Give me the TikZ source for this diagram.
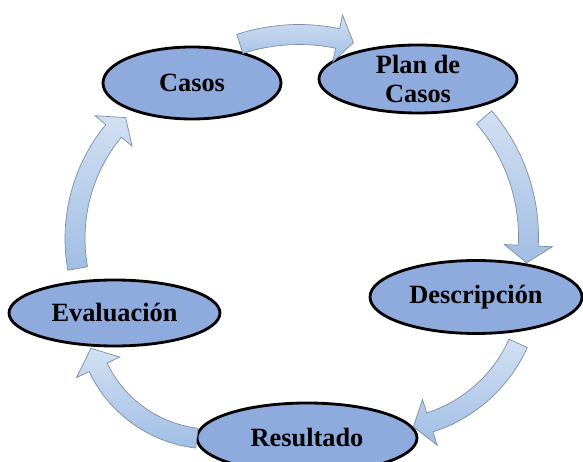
\documentclass[tikz,border=0pt]{standalone}
\usepackage{fontspec}
\setmainfont{Liberation Serif}
\usepackage{tikz}
\usetikzlibrary{shapes.geometric}
\usetikzlibrary{calc}

\definecolor{ellblau}{RGB}{143,170,220}
\definecolor{pfeilhell}{RGB}{210,224,242}
\definecolor{pfeildunkel}{RGB}{160,190,228}
\definecolor{pfeilrand}{RGB}{125,140,165}

% Bogenpfeil: Mitte, Radius, Startwinkel, Ansatz der Spitze, Spitze
\newcommand{\bogenpfeil}[5]{%
  \pgfmathsetmacro{\rAussen}{#2+0.2}\pgfmathsetmacro{\rInnen}{#2-0.2}%
  \pgfmathsetmacro{\rKopfA}{#2+0.48}\pgfmathsetmacro{\rKopfI}{#2-0.48}%
  \begin{scope}[shift={(#1)}]
    \draw[pfeil] (#3:\rAussen) arc[start angle=#3, end angle=#4, radius=\rAussen]
      -- (#4:\rKopfA) -- (#5:#2) -- (#4:\rKopfI) -- (#4:\rInnen)
      arc[start angle=#4, end angle=#3, radius=\rInnen] -- cycle;
  \end{scope}}

\begin{document}
\begin{tikzpicture}[
	schritt/.style={ellipse, draw=black, line width=1.6pt, fill=ellblau, inner sep=0pt, align=center, font=\fontsize{15}{16}\selectfont\bfseries},
	pfeil/.style={draw=pfeilrand, line width=0.4pt, top color=pfeilhell, bottom color=pfeildunkel}]
		\useasboundingbox (0,0) rectangle (11.66,9.24);
		\node[schritt, minimum width=3.56cm, minimum height=1.44cm] (casos) at (3.84,7.58) {Casos};
		\node[schritt, minimum width=3.96cm, minimum height=1.36cm] (plan) at (8.36,7.66) {Plan de\\Casos};
		\node[schritt, minimum width=4.24cm, minimum height=1.46cm] (descripcion) at (9.52,3.30) {Descripción};
		\node[schritt, minimum width=4.40cm, minimum height=1.40cm] (resultado) at (6.14,0.48) {Resultado};
		\node[schritt, minimum width=4.22cm, minimum height=1.32cm] (evaluacion) at (2.29,2.98) {Evaluación};
		\coordinate (m1) at (5.98,4.74);
		\coordinate (m2) at (6.90,4.50);
		\coordinate (m3) at (7.70,3.57);
		\coordinate (m4) at (4.23,2.97);
		\coordinate (m5) at (4.89,4.47);
		\bogenpfeil{m1}{3.81}{108.1}{78.3}{73.4}
		\bogenpfeil{m2}{3.67}{40.7}{-2.7}{-8.1}
		\bogenpfeil{m3}{2.92}{-24.2}{-72.1}{-78.8}
		\bogenpfeil{m4}{2.51}{263.3}{205.4}{196.1}
		\bogenpfeil{m5}{3.39}{190.2}{140.6}{134.5}
	\end{tikzpicture}
\end{document}
